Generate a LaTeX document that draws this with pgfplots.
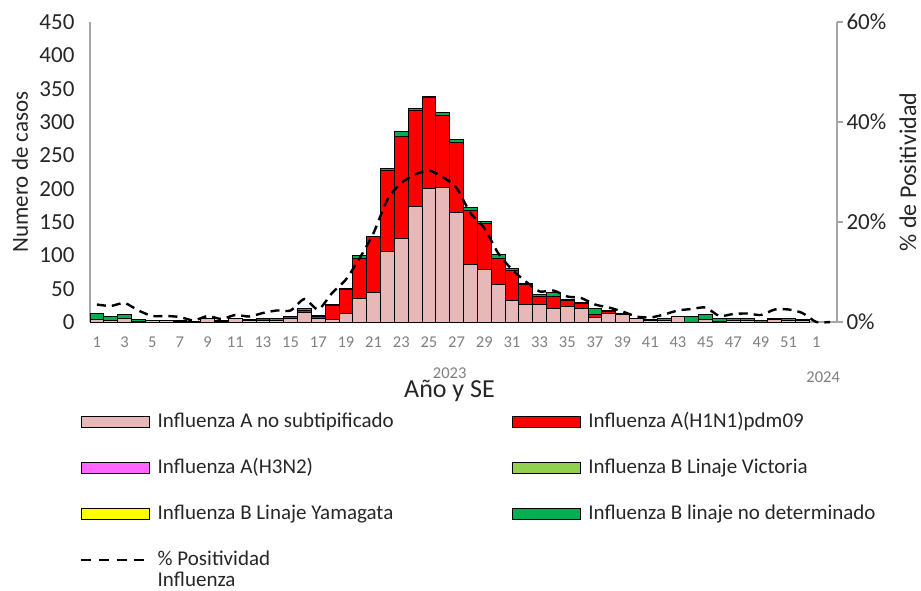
\documentclass[border=0pt]{standalone}
\usepackage{fontspec}
\setmainfont{Carlito}
\usepackage{pgfplots}
\usepackage{pgfplotstable}
\pgfplotsset{compat=1.18}
\definecolor{cpink}{HTML}{E6B8B7}
\definecolor{cred}{HTML}{FF0000}
\definecolor{cmag}{HTML}{FF66FF}
\definecolor{clgreen}{HTML}{92D050}
\definecolor{cyellow}{HTML}{FFFF00}
\definecolor{cgreen}{HTML}{00B050}
\definecolor{axgray}{HTML}{A6A6A6}
\definecolor{tickgray}{HTML}{7F7F7F}
\definecolor{txt}{HTML}{262626}

\pgfplotstableread{
wk pink red green
1 4 0 9
2 3 0 6
3 6 0 5
4 1 0 3
5 2 0 1
6 2 0 1
7 1 0 1
8 0 0 1
9 5 0 0
10 1 0 2
11 6 0 0
12 3 0 1
13 3 2 1
14 2 1 3
15 5 3 1
16 14 3 3
17 5 3 2
18 4 21 2
19 13 36 2
20 36 60 4
21 45 83 1
22 106 122 2
23 126 152 8
24 173 144 4
25 201 136 2
26 202 108 5
27 164 106 4
28 87 81 4
29 79 69 3
30 56 40 5
31 32 46 2
32 26 30 2
33 26 12 4
34 21 18 5
35 23 9 2
36 20 8 2
37 7 4 10
38 13 3 1
39 11 0 2
40 5 0 1
41 2 0 2
42 2 0 3
43 8 0 1
44 0 0 9
45 4 0 8
46 1 0 4
47 2 0 4
48 2 0 4
49 0 0 3
50 4 0 2
51 2 0 4
52 2 0 2
}\bars

\pgfplotstableread{
wk pos
1 3.5
2 3.2
3 3.8
4 2.3
5 1.2
6 1.2
7 1.0
8 0.3
9 1.2
10 0.6
11 1.4
12 1.1
13 1.8
14 2.3
15 2.3
16 4.6
17 2.5
18 5.8
19 8.5
20 12.8
21 17.8
22 24.5
23 27.8
24 29.5
25 30.3
26 29.0
27 26.8
28 21.8
29 18.8
30 13.8
31 10.5
32 8.1
33 6.1
34 6.3
35 5.1
36 4.8
37 3.5
38 2.9
39 2.1
40 1.1
41 0.9
42 1.5
43 2.3
44 2.6
45 2.9
46 1.2
47 1.6
48 1.7
49 1.4
50 2.5
51 2.5
52 1.8
53 0.0
54 0.0
}\posdata

\tikzset{bstyle/.style={draw=black, line width=0.8pt}}

\begin{document}
\begin{tikzpicture}
\useasboundingbox (0,0) rectangle (921pt,590pt);
\begin{axis}[
  at={(90pt,268pt)}, anchor=south west,
  scale only axis, width=747pt, height=300pt,
  xmin=0.5, xmax=54.5, ymin=0, ymax=450,
  ybar stacked, bar width=1,
  axis x line*=bottom, axis y line*=left,
  axis line style={axgray, line width=1.2pt, -},
  major tick length=0pt,
  /pgf/number format/assume math mode=true,
  xtick={1,3,...,53},
  xticklabels={1,3,5,7,9,11,13,15,17,19,21,23,25,27,29,31,33,35,37,39,41,43,45,47,49,51,1},
  x tick label style={font=\fontsize{16.5}{19}\selectfont, text=tickgray, yshift=-11pt},
  ytick={0,50,...,450},
  y tick label style={font=\fontsize{23}{26}\selectfont, text=txt, xshift=-12pt},
  xlabel={Año y SE},
  xlabel style={font=\fontsize{26}{30}\selectfont, text=txt, inner sep=0pt, at={(axis description cs:0.5,0)}, anchor=center, yshift=-69pt, xshift=-14pt},
  ylabel={Numero de casos},
  every axis y label/.style={font=\fontsize{23}{27}\selectfont, text=txt, inner sep=0pt, at={(axis description cs:-0.0937,0.5)}, anchor=center, rotate=90},
  legend columns=2,
  legend cell align=left,
  legend style={at={(axis description cs:0,0)}, anchor=north west, xshift=-10pt, yshift=-90pt,
    draw=none, fill=none, inner sep=0pt, column sep=8pt, row sep=26pt,
    font=\fontsize{21}{24}\selectfont, text=txt,
    nodes={inner sep=0pt, text height=15pt, text depth=5pt}},
  legend image code/.code={\draw[#1, line width=0.6pt] (0pt,-5.5pt) rectangle (68pt,5.5pt);},
  clip=false,
]
\addplot[bstyle, fill=cpink] table[x=wk, y=pink] {\bars};
\addlegendentry{\makebox[346pt][l]{Influenza A no subtipificado}}
\addplot[bstyle, fill=cred] table[x=wk, y=red] {\bars};
\addlegendentry{Influenza A(H1N1)pdm09}
\addlegendimage{draw=black, fill=cmag}
\addlegendentry{\makebox[346pt][l]{Influenza A(H3N2)}}
\addlegendimage{draw=black, fill=clgreen}
\addlegendentry{Influenza B Linaje Victoria}
\addlegendimage{draw=black, fill=cyellow}
\addlegendentry{\makebox[346pt][l]{Influenza B Linaje Yamagata}}
\addplot[bstyle, fill=cgreen] table[x=wk, y=green] {\bars};
\addlegendentry{Influenza B linaje no determinado}
\addlegendimage{legend image code/.code={\draw[black, line width=2.4pt, dash pattern=on 10pt off 7.6pt] (0pt,0pt) -- (63pt,0pt);}}
\addlegendentry{\begin{tabular}[t]{@{}l@{}}\% Positividad\\[-3pt]Influenza\end{tabular}}
\node[font=\fontsize{16.5}{19}\selectfont, text=tickgray, inner sep=0pt] at (axis cs:26.5,0) [yshift=-51pt] {2023};
\node[font=\fontsize{16.5}{19}\selectfont, text=tickgray, inner sep=0pt] at (axis cs:53.5,0) [yshift=-55pt] {2024};
\end{axis}
\begin{axis}[
  at={(90pt,268pt)}, anchor=south west,
  scale only axis, width=747pt, height=300pt,
  xmin=0.5, xmax=54.5, ymin=0, ymax=60,
  axis x line=none, axis y line*=right,
  axis line style={axgray, line width=1.2pt, -},
  ytick={0,20,40,60},
  yticklabels={0\%,20\%,40\%,60\%},
  /pgf/number format/assume math mode=true,
  tick align=outside, major tick length=6pt,
  tick style={axgray, line width=1.2pt},
  y tick label style={font=\fontsize{23}{26}\selectfont, text=txt},
  ylabel={\% de Positividad},
  every axis y label/.style={font=\fontsize{24}{28}\selectfont, text=txt, inner sep=0pt, at={(axis description cs:1.0950,0.5)}, anchor=center, rotate=90},
  clip=false,
]
\addplot[black, line width=2.4pt, dash pattern=on 9pt off 6pt, smooth, tension=0.4] table[x=wk, y=pos] {\posdata};
\end{axis}
\end{tikzpicture}
\end{document}
